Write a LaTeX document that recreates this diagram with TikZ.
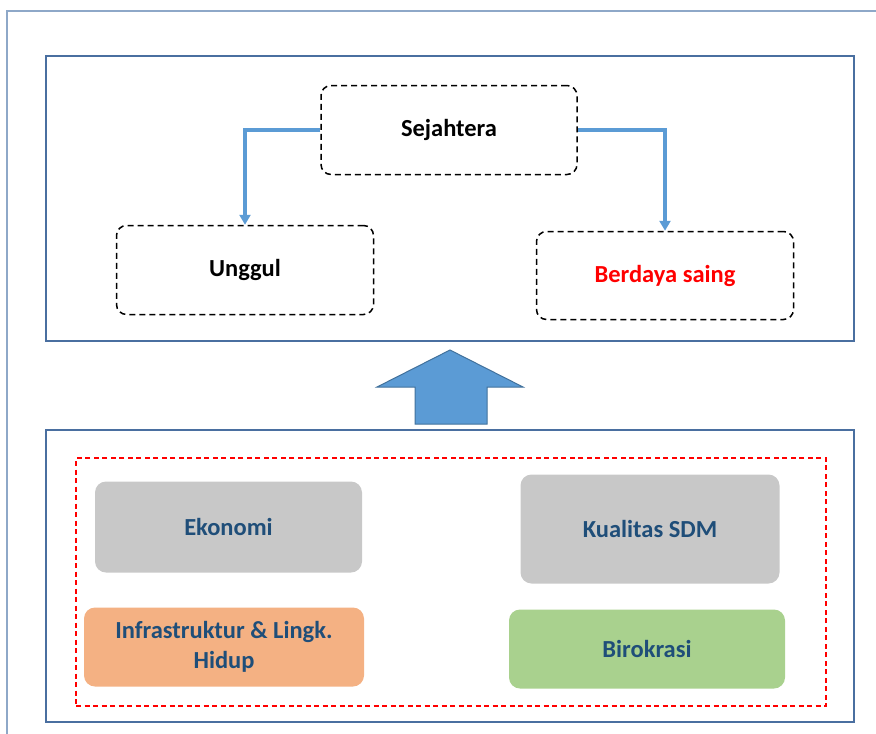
\documentclass[tikz,border=0pt]{standalone}
\usepackage{fontspec}
\setmainfont{Carlito}
\usetikzlibrary{arrows.meta}
\definecolor{framec}{HTML}{8EA8C8}
\definecolor{boxc}{HTML}{4A6FA0}
\definecolor{linkc}{HTML}{5B9BD5}
\definecolor{bigfill}{HTML}{5B9BD5}
\definecolor{bigdraw}{HTML}{41719C}
\definecolor{grayc}{HTML}{C8C8C8}
\definecolor{orangec}{HTML}{F4B183}
\definecolor{greenc}{HTML}{A9D18E}
\definecolor{txtc}{HTML}{1F4E79}
\begin{document}
\begin{tikzpicture}[x=1pt,y=-1pt,
  every node/.style={font=\fontsize{24.5}{30}\selectfont\bfseries, align=center, inner sep=0pt},
  panel/.style={draw=boxc, line width=1.6pt, rectangle},
  goalbox/.style={draw=black, line width=1.5pt, dash pattern=on 6pt off 4pt, rounded corners=10pt, rectangle},
  factor/.style={rectangle, rounded corners=11pt, text=txtc},
  link/.style={draw=linkc, line width=3.2pt, -{Triangle[length=10pt,width=11pt]}}
]
\useasboundingbox (0,0) rectangle (876,734);
\draw[framec, line width=1.2pt] (7,734) -- (7,11) -- (876,11);

\node[panel, minimum width=808pt, minimum height=285pt] (top) at (450,198.5) {};
\node[panel, minimum width=808pt, minimum height=292pt] (bottom) at (450,576) {};

\node[goalbox, minimum width=256pt, minimum height=89pt] (sej) at (449,130) {Sejahtera};
\node[goalbox, minimum width=257pt, minimum height=89pt] (ung) at (245,270) {Unggul};
\node[goalbox, minimum width=257pt, minimum height=88pt, text=red] (ber) at (665,275.5) {Berdaya saing};

\draw[link] (sej.west) -| (ung.north);
\draw[link] (sej.east) -| (ber.north);

\coordinate (tip) at (450,350);
\filldraw[fill=bigfill, draw=bigdraw, line width=1pt] (tip) -- (523,387) -- (487,387) -- (487,424) -- (415,424) -- (415,387) -- (377,387) -- cycle;

\node[draw=red, line width=1.4pt, dash pattern=on 5pt off 3.5pt, rectangle, minimum width=750pt, minimum height=248pt] (grp) at (451,582) {};

\node[factor, fill=grayc, minimum width=267pt, minimum height=91pt] (eko) at (228.5,527) {Ekonomi};
\node[factor, fill=grayc, minimum width=259pt, minimum height=109pt] (sdm) at (650,529) {Kualitas SDM};
\node[factor, fill=orangec, minimum width=280pt, minimum height=79pt] (inf) at (224,647) {Infrastruktur \& Lingk.\\Hidup};
\node[factor, fill=greenc, minimum width=276pt, minimum height=79pt] (bir) at (647,649) {Birokrasi};
\end{tikzpicture}
\end{document}
